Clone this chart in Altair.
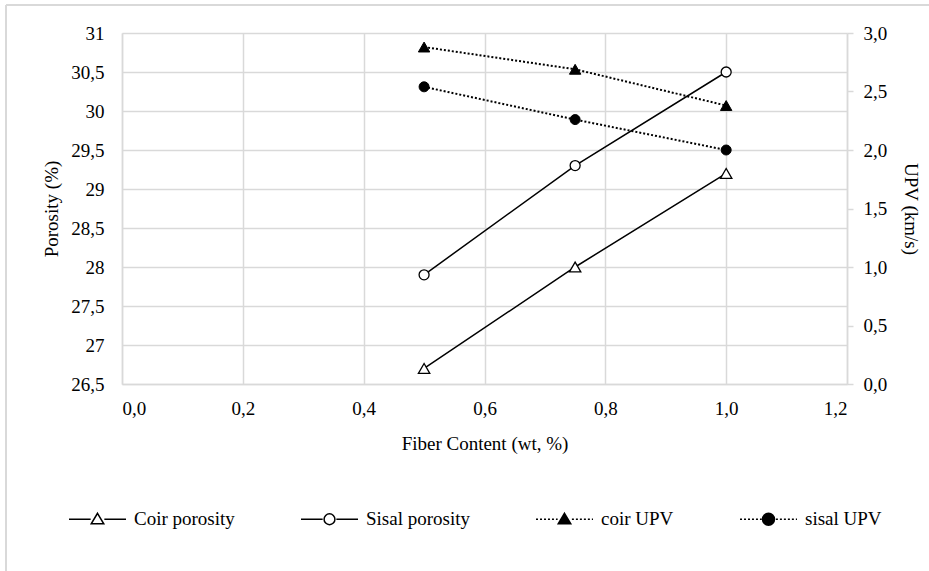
import altair as alt
import pandas as pd

# ---- data ----
fiber = [0.5, 0.75, 1.0]
coir_porosity = [26.7, 28.0, 29.2]
sisal_porosity = [27.9, 29.3, 30.5]
coir_upv = [2.88, 2.69, 2.38]
sisal_upv = [2.54, 2.26, 2.00]

series_names = ["Coir porosity", "Sisal porosity", "coir UPV", "sisal UPV"]
left_ticks = [26.5, 27, 27.5, 28, 28.5, 29, 29.5, 30, 30.5, 31]
right_ticks = [0, 0.5, 1.0, 1.5, 2.0, 2.5, 3.0]
x_ticks = [0, 0.2, 0.4, 0.6, 0.8, 1.0, 1.2]

rows = []
for name, vals, kind in zip(series_names,
                            [coir_porosity, sisal_porosity, coir_upv, sisal_upv],
                            ["porosity", "porosity", "upv", "upv"]):
    for f, v in zip(fiber, vals):
        rows.append({"fiber": f, "value": v, "series": name, "kind": kind})
df = pd.DataFrame(rows)

FONT = "Liberation Serif"
FS = 19
GRID = "#d9d9d9"

# ---- legend symbol paths (line + marker), stroke-only; filled markers are nested outlines ----
def dotted(x0, x1):
    parts = []
    x = x0
    while x < x1 - 0.01:
        parts.append(f"M{x:.3f},0L{min(x + 0.07, x1):.3f},0")
        x += 0.14
    return "".join(parts)

def circ(r):
    return f"M{r:.3f},0A{r:.3f},{r:.3f},0,1,1,{-r:.3f},0A{r:.3f},{r:.3f},0,1,1,{r:.3f},0Z"

def tri(s):
    return f"M0,{-s * 0.95:.3f}L{s:.3f},{s * 0.73:.3f}L{-s:.3f},{s * 0.73:.3f}Z"

def filled(fn, outer, step=0.03):
    out = []
    r = outer
    while r > 0.005:
        out.append(fn(r))
        r -= step
    return "".join(out)

solid = "M-1,0L-0.24,0M0.24,0L1,0"
dots = dotted(-1, -0.24) + dotted(0.26, 1)
paths = [
    solid + tri(0.22),
    solid + circ(0.19),
    dots + filled(tri, 0.22),
    dots + filled(circ, 0.21),
]

legend = alt.Legend(
    title=None, orient="none", legendX=-54, legendY=456.5, direction="horizontal",
    columns=4, padding=0, labelFont=FONT, labelFontSize=FS, labelColor="black",
    labelOffset=7, columnPadding=63, symbolSize=3249, symbolStrokeWidth=1.5,
    symbolStrokeColor="black", symbolOpacity=1, labelLimit=0,
)

x_enc = alt.X("fiber:Q", scale=alt.Scale(domain=[0, 1.2], nice=False),
              axis=alt.Axis(values=x_ticks, title="Fiber Content (wt, %)",
                            labelExpr="replace(format(datum.value, '.1f'), '.', ',')",
                            ticks=False, tickSize=0, labelPadding=15,
                            titleY=59, titleBaseline="middle"))

y_left = alt.Y("value:Q", scale=alt.Scale(domain=[26.5, 31], nice=False, zero=False),
               axis=alt.Axis(values=left_ticks, title="Porosity (%)", orient="left",
                             labelExpr="replace(toString(datum.value), '.', ',')",
                             ticks=False, tickSize=0, labelPadding=18,
                             titleX=-71, titleY=175.5, titleBaseline="middle"))

y_right = alt.Y("value:Q", scale=alt.Scale(domain=[0, 3], nice=False, zero=False),
                axis=alt.Axis(values=right_ticks, title="UPV (km/s)", orient="right",
                              labelExpr="replace(format(datum.value, '.1f'), '.', ',')",
                              ticks=True, tickSize=6, labelPadding=10, grid=False,
                              titleX=63, titleY=175.5, titleAngle=90, titleBaseline="middle"))

base = alt.Chart(df)

por = base.transform_filter(alt.datum.kind == "porosity")
upv = base.transform_filter(alt.datum.kind == "upv")

left_lines = por.mark_line(color="black", strokeWidth=1.5).encode(
    x=x_enc, y=y_left, detail="series:N")
left_tri = por.transform_filter(alt.datum.series == "Coir porosity").mark_point(
    shape="triangle-up", filled=True, fill="white", stroke="black", strokeWidth=1.3,
    size=130, opacity=1).encode(x=x_enc, y=y_left)
left_circ = por.transform_filter(alt.datum.series == "Sisal porosity").mark_point(
    shape="circle", filled=True, fill="white", stroke="black", strokeWidth=1.3,
    size=100, opacity=1).encode(x=x_enc, y=y_left)
legend_layer = base.mark_point(opacity=0, stroke="black").encode(
    x=x_enc, y=y_left,
    shape=alt.Shape("series:N", scale=alt.Scale(domain=series_names, range=paths), legend=legend),
)
frame_df = pd.DataFrame({"k": [0]})
frame_left = alt.Chart(frame_df).mark_rule(color=GRID, strokeWidth=2).encode(
    x=alt.value(-116), y=alt.value(-28), y2=alt.value(560))
frame_top = alt.Chart(frame_df).mark_rule(color=GRID, strokeWidth=2).encode(
    x=alt.value(-116), x2=alt.value(830), y=alt.value(-28))

left = alt.layer(left_lines, left_tri, left_circ, legend_layer)

right_lines = upv.mark_line(color="black", strokeWidth=2, strokeDash=[2, 2]).encode(
    x=x_enc, y=y_right, detail="series:N")
right_tri = upv.transform_filter(alt.datum.series == "coir UPV").mark_point(
    shape="triangle-up", filled=True, fill="black", stroke="black", strokeWidth=1,
    size=130, opacity=1).encode(x=x_enc, y=y_right)
right_circ = upv.transform_filter(alt.datum.series == "sisal UPV").mark_point(
    shape="circle", filled=True, fill="black", stroke="black", strokeWidth=1,
    size=100, opacity=1).encode(x=x_enc, y=y_right)
right = alt.layer(right_lines, right_tri, right_circ)

chart = alt.layer(left, right, frame_left, frame_top).resolve_scale(
    y="independent"
).properties(
    width=725, height=351,
    padding={"left": 122, "top": 33, "right": 82, "bottom": 187},
    autosize="none",
    background="white",
).configure_view(stroke=None).configure_axis(
    labelFont=FONT, labelFontSize=FS, labelColor="black",
    titleFont=FONT, titleFontSize=FS, titleColor="black", titleFontWeight="normal",
    gridColor=GRID, gridWidth=1.5, domainColor=GRID, domainWidth=1.5,
    tickColor=GRID, tickWidth=1.5,
)

chart.save("out.html", embed_options={"renderer": "svg", "actions": False})
